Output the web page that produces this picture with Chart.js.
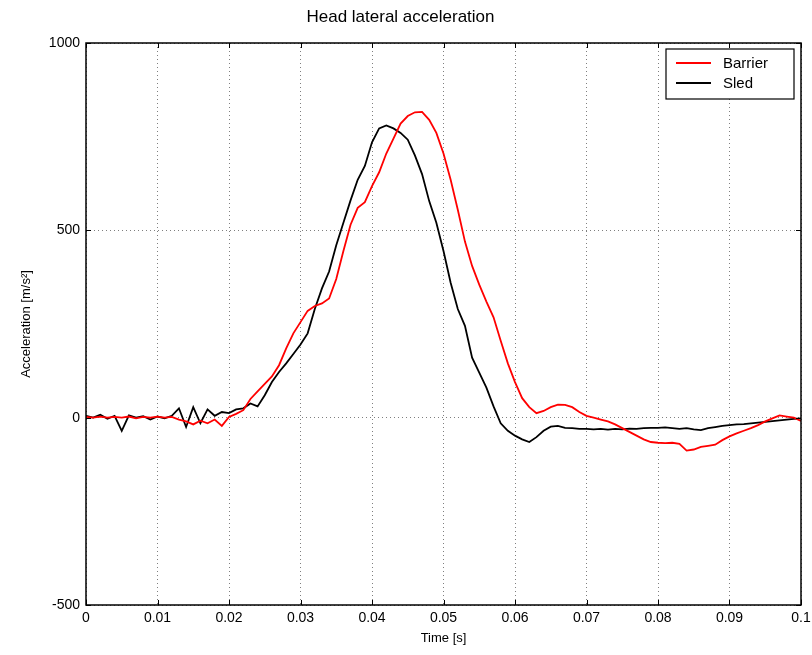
<!DOCTYPE html>
<html>
<head>
<meta charset="utf-8">
<script src="https://cdn.jsdelivr.net/npm/chart.js@4.4.1/dist/chart.umd.min.js"></script>
<style>
  html, body { margin: 0; padding: 0; background: #fff; }
  #wrap { width: 812px; height: 655px; }
</style>
</head>
<body>
<div id="wrap"><canvas id="accelChart"></canvas></div>
<script>
// time samples [s]
const timeS = [
  0.000, 0.001, 0.002, 0.003, 0.004, 0.005, 0.006, 0.007, 0.008, 0.009,
  0.010, 0.011, 0.012, 0.013, 0.014, 0.015, 0.016, 0.017, 0.018, 0.019,
  0.020, 0.021, 0.022, 0.023, 0.024, 0.025, 0.026, 0.027, 0.028, 0.029,
  0.030, 0.031, 0.032, 0.033, 0.034, 0.035, 0.036, 0.037, 0.038, 0.039,
  0.040, 0.041, 0.042, 0.043, 0.044, 0.045, 0.046, 0.047, 0.048, 0.049,
  0.050, 0.051, 0.052, 0.053, 0.054, 0.055, 0.056, 0.057, 0.058, 0.059,
  0.060, 0.061, 0.062, 0.063, 0.064, 0.065, 0.066, 0.067, 0.068, 0.069,
  0.070, 0.071, 0.072, 0.073, 0.074, 0.075, 0.076, 0.077, 0.078, 0.079,
  0.080, 0.081, 0.082, 0.083, 0.084, 0.085, 0.086, 0.087, 0.088, 0.089,
  0.090, 0.091, 0.092, 0.093, 0.094, 0.095, 0.096, 0.097, 0.098, 0.099,
  0.100
];

// acceleration [m/s^2]
const barrierAccel = [
  2, 0, 3, 0, 2, 0, 3, -2, 2, 0,
  3, 0, 2, -5, -10, -18, -8, -15, -5, -22,
  2, 10, 20, 50, 70, 90, 110, 140, 185, 225,
  255, 285, 298, 305, 318, 370, 445, 515, 560, 575,
  618, 655, 705, 745, 785, 805, 815, 816, 795, 760,
  705, 635, 555, 470, 405, 355, 310, 268, 205, 145,
  95, 52, 28, 12, 18, 28, 35, 34, 28, 15,
  5, 0, -5, -10, -18, -28, -38, -48, -58, -65,
  -67, -68, -67, -70, -88, -85, -78, -75, -72, -60,
  -50, -42, -35, -28, -20, -10, -2, 6, 3, 0,
  -9
];

const sledAccel = [
  5, 0, 8, -3, 5, -35, 6, 0, 4, -5,
  3, -2, 5, 25, -25, 28, -15, 22, 5, 15,
  12, 22, 25, 38, 30, 60, 95, 122, 145, 170,
  195, 225, 290, 345, 390, 460, 520, 580, 635, 672,
  735, 772, 780, 772, 760, 742, 700, 650, 578, 520,
  445, 360, 290, 245, 160, 120, 80, 30, -15, -35,
  -48, -58, -65, -52, -35, -24, -22, -27, -28, -30,
  -30, -31, -30, -32, -30, -31, -29, -30, -28, -27,
  -27, -26, -28, -30, -28, -31, -33, -28, -25, -22,
  -20, -18, -17, -15, -13, -11, -9, -7, -5, -3,
  -2
];

const seriesNames = ['Barrier', 'Sled'];
const xTicks = [0, 0.01, 0.02, 0.03, 0.04, 0.05, 0.06, 0.07, 0.08, 0.09, 0.1];
const yTicks = [-500, 0, 500, 1000];

const FONT = "'Liberation Sans', Arial, Helvetica, sans-serif";

const toPoints = (vals) => vals.map((v, i) => ({ x: timeS[i], y: v }));

// frame, inward ticks and in-axes legend (matlab look)
const matlabFrame = {
  id: 'matlabFrame',
  afterDraw(chart) {
    const { ctx, chartArea: a, scales } = chart;
    const len = 5;
    ctx.save();
    ctx.strokeStyle = '#000';
    ctx.lineWidth = 1;
    ctx.beginPath();
    xTicks.forEach(t => {
      const px = Math.round(scales.x.getPixelForValue(t)) + 0.5;
      ctx.moveTo(px, a.bottom); ctx.lineTo(px, a.bottom - len);
      ctx.moveTo(px, a.top); ctx.lineTo(px, a.top + len);
    });
    yTicks.forEach(v => {
      const py = Math.round(scales.y.getPixelForValue(v)) + 0.5;
      ctx.moveTo(a.left, py); ctx.lineTo(a.left + len, py);
      ctx.moveTo(a.right, py); ctx.lineTo(a.right - len, py);
    });
    ctx.stroke();

    ctx.lineWidth = 1.5;
    ctx.strokeRect(a.left, a.top, a.right - a.left, a.bottom - a.top);

    // legend box
    const bw = 128, bh = 50;
    const bx = a.right - 7 - bw, by = a.top + 6;
    ctx.fillStyle = '#fff';
    ctx.fillRect(bx, by, bw, bh);
    ctx.lineWidth = 1.2;
    ctx.strokeRect(bx, by, bw, bh);
    ctx.font = '15px ' + FONT;
    ctx.textBaseline = 'middle';
    chart.data.datasets.forEach((ds, i) => {
      const ly = by + 14 + i * 20;
      ctx.strokeStyle = ds.borderColor;
      ctx.lineWidth = 1.8;
      ctx.beginPath();
      ctx.moveTo(bx + 10, ly); ctx.lineTo(bx + 45, ly);
      ctx.stroke();
      ctx.fillStyle = '#000';
      ctx.fillText(ds.label, bx + 57, ly + 1);
    });
    ctx.restore();
  }
};

new Chart(document.getElementById('accelChart').getContext('2d'), {
  type: 'line',
  data: {
    datasets: [
      {
        label: seriesNames[0],
        data: toPoints(barrierAccel),
        borderColor: '#ff0000',
        borderWidth: 1.8,
        pointRadius: 0,
        tension: 0
      },
      {
        label: seriesNames[1],
        data: toPoints(sledAccel),
        borderColor: '#000000',
        borderWidth: 1.8,
        pointRadius: 0,
        tension: 0
      }
    ]
  },
  options: {
    responsive: true,
    maintainAspectRatio: false,
    animation: false,
    layout: { padding: { top: 0, right: 11, bottom: 0, left: 0 } },
    plugins: {
      legend: { display: false },
      tooltip: { enabled: false },
      title: {
        display: true,
        text: 'Head lateral acceleration',
        color: '#000',
        font: { family: FONT, size: 17, weight: 'normal', lineHeight: 1.2 },
        padding: { top: 7, bottom: 15.6 }
      }
    },
    scales: {
      x: {
        type: 'linear',
        min: 0,
        max: 0.1,
        afterBuildTicks: (s) => { s.ticks = xTicks.map(v => ({ value: v })); },
        afterFit: (s) => { s.height = 50; s.paddingLeft = 0; s.paddingRight = 0; },
        ticks: {
          color: '#000',
          padding: 5,
          maxRotation: 0,
          font: { family: FONT, size: 14 },
          callback: (v) => String(+(+v).toFixed(3))
        },
        grid: { color: 'rgba(0,0,0,0.5)', lineWidth: 1, drawTicks: false },
        border: { display: false, dash: [1, 3] },
        title: {
          display: true,
          text: 'Time [s]',
          color: '#000',
          font: { family: FONT, size: 13 },
          padding: { top: 1, bottom: 9 }
        }
      },
      y: {
        min: -500,
        max: 1000,
        afterBuildTicks: (s) => { s.ticks = yTicks.map(v => ({ value: v })); },
        afterFit: (s) => { s.width = 86; },
        ticks: {
          color: '#000',
          padding: 6,
          font: { family: FONT, size: 14 },
          callback: (v) => String(v)
        },
        grid: { color: 'rgba(0,0,0,0.5)', lineWidth: 1, drawTicks: false },
        border: { display: false, dash: [1, 3] },
        title: {
          display: true,
          text: 'Acceleration [m/s\u00B2]',
          color: '#000',
          font: { family: FONT, size: 13 },
          padding: { top: 19, bottom: 4 }
        }
      }
    }
  },
  plugins: [matlabFrame]
});
</script>
</body>
</html>
